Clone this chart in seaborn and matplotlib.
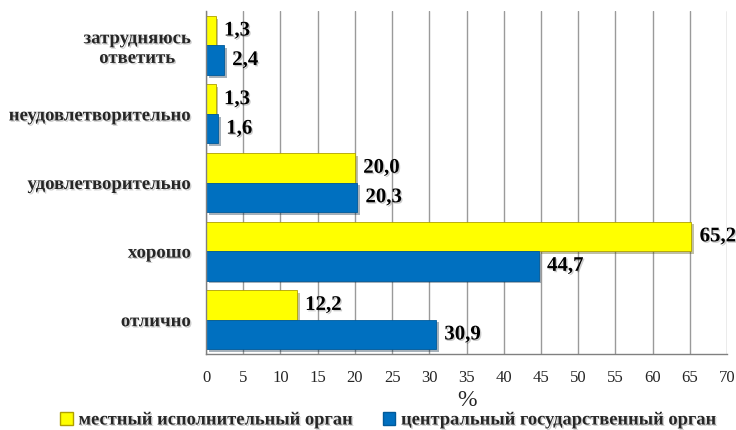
import matplotlib
matplotlib.use("Agg")
import matplotlib.pyplot as plt
import matplotlib.patheffects as pe
from matplotlib.patches import Patch
import seaborn as sns
import pandas as pd

categories = ["затрудняюсь\nответить", "неудовлетворительно", "удовлетворительно", "хорошо", "отлично"]
series_names = ["местный исполнительный орган", "центральный государственный орган"]
local_vals = [1.3, 1.3, 20.0, 65.2, 12.2]
central_vals = [2.4, 1.6, 20.3, 44.7, 30.9]
x_ticks = list(range(0, 75, 5))
colors = ["#FFFF00", "#0070C0"]

rows = []
for c, a, b in zip(categories, local_vals, central_vals):
    rows.append({"cat": c, "series": series_names[0], "val": a})
    rows.append({"cat": c, "series": series_names[1], "val": b})
df = pd.DataFrame(rows)

sns.set_style("white")
plt.rcParams["font.family"] = ["Liberation Serif", "DejaVu Serif"]

fig = plt.figure(figsize=(7.36, 4.31), dpi=100)
ax = fig.add_axes([206/736, 1-355/431, (727-206)/736, (355-12)/431])

sns.barplot(data=df, y="cat", x="val", hue="series", order=categories,
            hue_order=series_names, palette=colors, saturation=1, width=0.86, gap=0,
            orient="h", ax=ax, legend=False, edgecolor="#b0a000", linewidth=0.6,
            err_kws={"linewidth": 0})

shadow = [pe.SimplePatchShadow(offset=(2, -2), alpha=0.35), pe.Normal()]
for p in ax.patches:
    p.set_path_effects(shadow)
    if p.get_facecolor()[2] > 0.5:
        p.set_edgecolor("#005a9a")

txt_shadow = [pe.SimplePatchShadow(offset=(1, -1), alpha=0.2), pe.Normal()]

for cont, vals in zip(ax.containers, [local_vals, central_vals]):
    labels = [f"{v:.1f}".replace(".", ",") for v in vals]
    texts = ax.bar_label(cont, labels=labels, padding=6, fontsize=15, fontweight="bold",
                         color="black", clip_on=False)
    for t in texts:
        t.set_path_effects(txt_shadow)

ax.set_xlim(0, 70)
ax.set_xticks(x_ticks)
ax.set_xticklabels([str(t) for t in x_ticks], fontsize=12)
ax.set_ylim(len(categories) - 0.5, -0.5)
ax.set_yticks(range(len(categories)))
ax.set_yticklabels(categories, fontsize=13.5, fontweight="bold", multialignment="center")
ax.set_yticks([i - 0.5 for i in range(len(categories) + 1)], minor=True)
ax.tick_params(axis="y", which="major", length=0, pad=11)
ax.tick_params(axis="y", which="minor", length=5, color="#808080", width=1, direction="out")
ax.tick_params(axis="x", which="major", length=5, color="#808080", width=1, direction="inout", pad=8)
for lab in ax.get_yticklabels():
    lab.set_path_effects(txt_shadow)

ax.grid(axis="x", color="#9a9a9a", linewidth=1)
ax.set_axisbelow(True)
for s in ["top", "right"]:
    ax.spines[s].set_visible(False)
for s in ["left", "bottom"]:
    ax.spines[s].set_color("#808080")
    ax.spines[s].set_linewidth(1)
ax.set_ylabel("")
ax.set_xlabel("%", fontsize=17, labelpad=3)

handles = [Patch(facecolor=colors[0], edgecolor="#b0a000"),
           Patch(facecolor=colors[1], edgecolor="#005a9a")]
leg = fig.legend(handles, series_names, loc="center", bbox_to_anchor=(389/736, 1 - 421/431),
                 ncol=2, frameon=False, prop={"weight": "bold", "size": 13.3},
                 handlelength=0.7, handleheight=0.7, handletextpad=0.3, columnspacing=1.5,
                 borderpad=0, borderaxespad=0)
for t in leg.get_texts():
    t.set_path_effects(txt_shadow)

fig.savefig("out.png", dpi=100)
